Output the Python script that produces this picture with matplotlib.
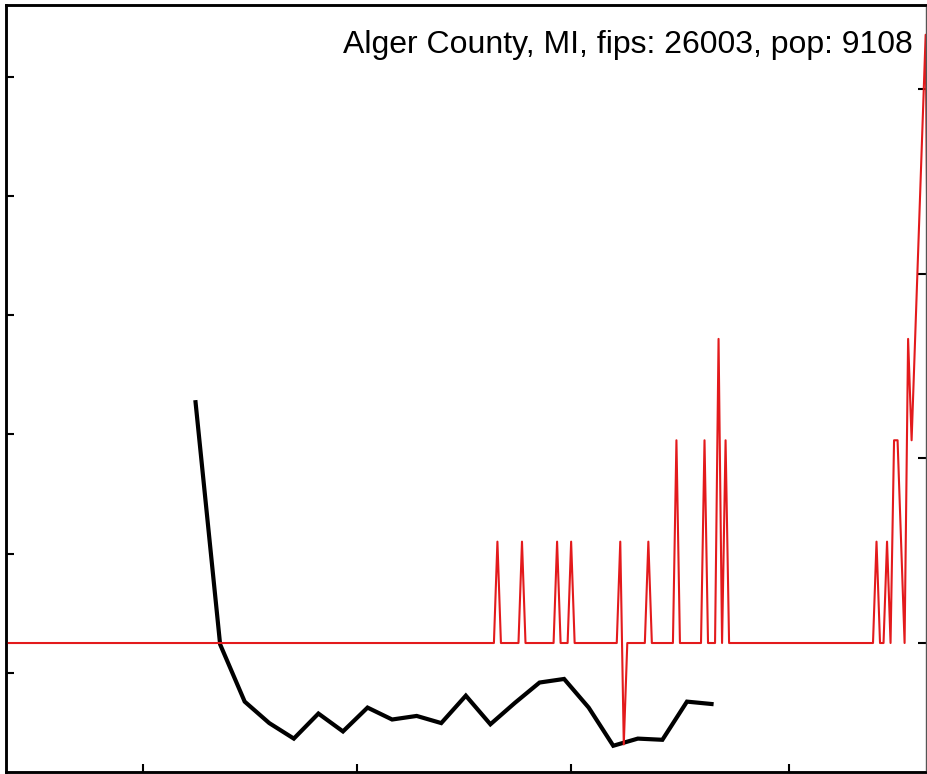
import numpy as np
import pandas as pd
import matplotlib
matplotlib.use('Agg')
import matplotlib.pyplot as plt

plt.rcParams['font.family'] = ['Liberation Sans', 'DejaVu Sans']

#----------- data
county = 'Alger County, MI'
fips = 26003
pop = 9108

start = pd.Timestamp('2020-01-22')
n_days = 264

# daily new cases (only the non-zero days), day = days since start
case_days = [140, 147, 157, 161, 175, 176, 183, 191, 199, 203, 205,
             248, 251, 253, 254, 255, 257, 258, 259, 260, 261, 262, 263]
case_vals = [1, 1, 1, 1, 1, -1, 1, 2, 2, 3, 2,
             1, 1, 2, 2, 1, 3, 2, 3, 4, 5, 6, 2]

# weekly series (black), starting 2020-03-16
week_start = pd.Timestamp('2020-03-16')
weekly = [2.27, 0.24, -0.24, -0.42, -0.55, -0.34, -0.49, -0.29, -0.39, -0.36, -0.42,
          -0.19, -0.43, -0.25, -0.08, -0.05, -0.29, -0.61, -0.55, -0.56, -0.24, -0.26]

xticks = ['2020-03-01', '2020-05-01', '2020-07-01', '2020-09-01']
left_ticks = [0, 1, 2, 3, 4, 5]
right_ticks = [0, 20, 40, 60]

#----------- build series
days = pd.date_range(start, periods=n_days, freq='D')
cases = np.zeros(n_days)
cases[case_days] = case_vals
per100k = cases * 100000 / pop
wdays = pd.date_range(week_start, periods=len(weekly), freq='7D')

#----------- plot
fig = plt.figure(figsize=(9.28, 7.74), dpi=100)
ax = fig.add_axes([6 / 928, 2 / 774, 920 / 928, 767 / 774])
ax2 = ax.twinx()

ax.plot(wdays, weekly, color='black', linewidth=3, solid_joinstyle='miter', zorder=3)
ax2.plot(days, per100k, color='#e31a1c', linewidth=1.5)

ax.set_xlim(start, start + pd.Timedelta(days=262.1))
ax.set_ylim(-0.83, 5.60)
ax2.set_ylim(-13.97, 69.1)

ax.set_xticks(pd.to_datetime(xticks))
ax.set_yticks(left_ticks)
ax2.set_yticks(right_ticks)
ax.tick_params(axis='both', direction='in', length=6, width=1.5,
               labelleft=False, labelbottom=False)
ax2.tick_params(axis='y', direction='in', length=6, width=1.5, labelright=False)

for s in ['left', 'top', 'bottom']:
    ax.spines[s].set_linewidth(1.8)
    ax2.spines[s].set_linewidth(1.8)
ax2.spines['right'].set_linewidth(1.0)
ax2.spines['right'].set_color('#555555')
ax.spines['right'].set_visible(False)

ax2.text(0.986, 0.967, '{}, fips: {}, pop: {}'.format(county, fips, pop),
         transform=ax2.transAxes, ha='right', va='top', fontsize=23)

fig.savefig('out.png', dpi=100)
